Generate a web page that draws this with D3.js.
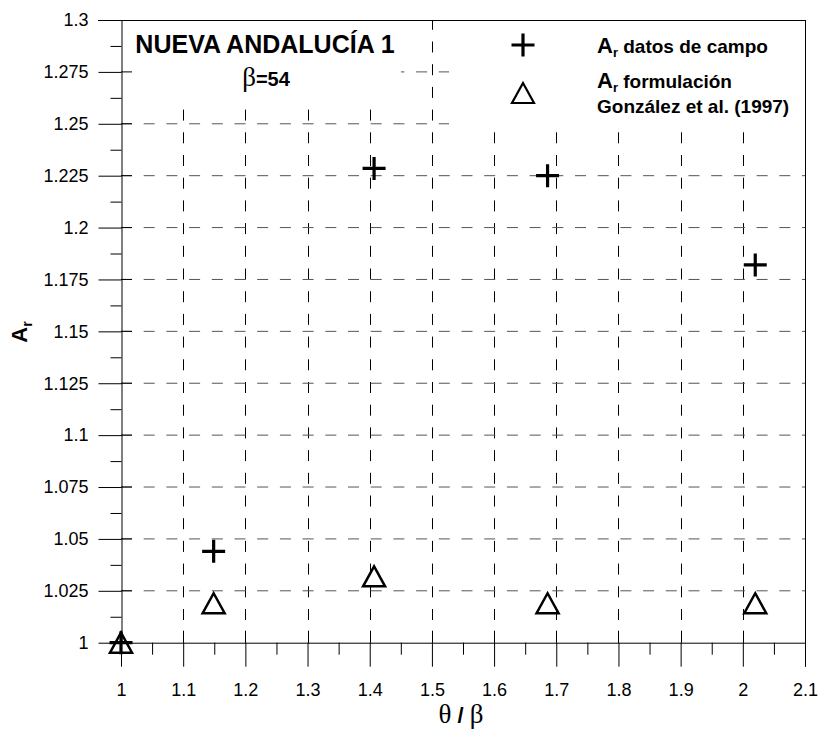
<!DOCTYPE html>
<html>
<head>
<meta charset="utf-8">
<script src="https://cdn.jsdelivr.net/npm/d3@7/dist/d3.min.js"></script>
<style>
  html, body { margin: 0; padding: 0; background: #fff; }
  svg { display: block; }
  text { font-family: "Liberation Sans", Arial, sans-serif; fill: #000; }
  .serif { font-family: "Liberation Serif", "Times New Roman", serif; }
</style>
</head>
<body>
<svg id="chart" width="821" height="733"></svg>
<script>
// θ/β ratios and amplification factors at Nueva Andalucía 1 (β = 54)
const thetaBetaCampo = [1.0, 1.149, 1.407, 1.686, 2.02];
const arCampo        = [1.0, 1.044, 1.2285, 1.225, 1.182];
const thetaBetaForm  = [1.0, 1.149, 1.407, 1.686, 2.02];
const arFormulacion  = [1.0, 1.019, 1.032, 1.019, 1.019];

// axis tick labels
const xTickLabels = ["1", "1.1", "1.2", "1.3", "1.4", "1.5", "1.6", "1.7", "1.8", "1.9", "2", "2.1"];
const yTickLabels = ["1", "1.025", "1.05", "1.075", "1.1", "1.125", "1.15", "1.175", "1.2",
                     "1.225", "1.25", "1.275", "1.3"];

const xTicks = xTickLabels.map(Number);
const yTicks = yTickLabels.map(Number);
const xMinor = xTicks.slice(0, -1).map(v => +(v + 0.05).toFixed(3));
const yMinor = yTicks.slice(0, -1).map(v => +(v + 0.0125).toFixed(4));

const svg = d3.select("#chart");
const plotLeft = 121, plotRight = 805, plotTop = 20, plotBottom = 642.7;

const x = d3.scaleLinear().domain([1, 2.1]).range([plotLeft, plotRight]);
const y = d3.scaleLinear().domain([1, 1.3]).range([plotBottom, plotTop]);

svg.append("rect").attr("width", 821).attr("height", 733).attr("fill", "#fff");

// dashed grid
const grid = svg.append("g").attr("stroke", "#000").attr("stroke-width", 1)
  .attr("stroke-dasharray", "11,11.7").attr("fill", "none");
grid.selectAll("line.v").data(xTicks.filter(v => v > 1 && v < 2.1)).join("line")
  .attr("class", "v")
  .attr("x1", d => Math.round(x(d)) + 0.5).attr("x2", d => Math.round(x(d)) + 0.5)
  .attr("y1", y(1)).attr("y2", y(1.3));
grid.selectAll("line.h").data(yTicks.filter(v => v > 1 && v < 1.3)).join("line")
  .attr("class", "h").attr("stroke", "#555")
  .attr("x1", x(1)).attr("x2", x(2.1))
  .attr("y1", d => y(d)).attr("y2", d => y(d));

// title and legend panels sit over the grid
svg.append("rect").attr("x", plotLeft).attr("y", plotTop).attr("width", 280).attr("height", 79).attr("fill", "#fff");
svg.append("rect").attr("x", 449).attr("y", plotTop).attr("width", plotRight - 449).attr("height", 106).attr("fill", "#fff");

// frame
const frame = svg.append("g").attr("stroke", "#000").attr("stroke-width", 1).attr("fill", "none");
frame.append("line").attr("x1", 98).attr("x2", plotRight).attr("y1", plotTop + 0.5).attr("y2", plotTop + 0.5);
frame.append("line").attr("x1", plotRight + 0.5).attr("x2", plotRight + 0.5).attr("y1", plotTop).attr("y2", plotBottom + 24);

// y axis: major ticks out with labels, short inward marks, minor ticks out
const yAxis = svg.append("g").attr("transform", `translate(${plotLeft + 0.5},0)`)
  .call(d3.axisLeft(y).tickValues(yTicks).tickFormat((d, i) => yTickLabels[i])
    .tickSizeInner(23).tickSizeOuter(0).tickPadding(10));
yAxis.select(".domain").attr("stroke", "#000");
yAxis.selectAll("text").attr("font-size", 18).attr("font-family", "Liberation Sans, Arial, sans-serif");
yAxis.selectAll(".tick line").attr("stroke", "#000");
svg.append("g").attr("transform", `translate(${plotLeft + 0.5},0)`)
  .call(d3.axisLeft(y).tickValues(yMinor).tickFormat("").tickSizeInner(11).tickSizeOuter(0))
  .call(g => g.select(".domain").remove())
  .selectAll(".tick line").attr("stroke", "#000");
svg.append("g").selectAll("line").data(yTicks.filter(v => v < 1.3)).join("line")
  .attr("stroke", "#000")
  .attr("x1", plotLeft).attr("x2", plotLeft + 11)
  .attr("y1", d => y(d)).attr("y2", d => y(d));

// x axis: major ticks cross the axis, minor ticks point down
const xAxis = svg.append("g").attr("transform", `translate(0,${plotBottom})`)
  .call(d3.axisBottom(x).tickValues(xTicks).tickFormat((d, i) => xTickLabels[i])
    .tickSizeInner(24).tickSizeOuter(0).tickPadding(17));
xAxis.select(".domain").attr("stroke", "#000");
xAxis.selectAll("text").attr("font-size", 18).attr("font-family", "Liberation Sans, Arial, sans-serif");
xAxis.selectAll(".tick line").attr("stroke", "#000");
svg.append("g").attr("transform", `translate(0,${plotBottom})`)
  .call(d3.axisBottom(x).tickValues(xMinor).tickFormat("").tickSizeInner(12).tickSizeOuter(0))
  .call(g => g.select(".domain").remove())
  .selectAll(".tick line").attr("stroke", "#000");
svg.append("g").selectAll("line").data(xTicks).join("line")
  .attr("stroke", "#000")
  .attr("x1", d => Math.round(x(d)) + 0.5).attr("x2", d => Math.round(x(d)) + 0.5)
  .attr("y1", plotBottom - 12).attr("y2", plotBottom);

// axis titles
const xt = svg.append("text").attr("x", 461).attr("y", 723).attr("text-anchor", "middle");
xt.append("tspan").attr("class", "serif").attr("font-size", 27).text("θ");
xt.append("tspan").attr("font-size", 22).attr("font-weight", "bold").text(" / ");
xt.append("tspan").attr("class", "serif").attr("font-size", 27).text("β");

const yt = svg.append("text").attr("transform", "translate(27,332) rotate(-90)")
  .attr("text-anchor", "middle").attr("font-weight", "bold").attr("font-size", 22);
yt.append("tspan").text("A");
yt.append("tspan").attr("font-size", 14).attr("dy", 5).text("r");

// chart title
svg.append("text").attr("x", 265).attr("y", 53).attr("text-anchor", "middle")
  .attr("font-size", 25).attr("font-weight", "bold").text("NUEVA ANDALUCÍA 1");
const bt = svg.append("text").attr("x", 266).attr("y", 86).attr("text-anchor", "middle");
bt.append("tspan").attr("class", "serif").attr("font-size", 27).text("β");
bt.append("tspan").attr("font-size", 20).attr("font-weight", "bold").text("=54");

// markers
const plusPath = "M-11.5,0H11.5M0,-11.5V11.5";
const triPath = "M0,-10L11,10H-11Z";

const campo = thetaBetaCampo.map((t, i) => ({ t, a: arCampo[i] }));
const form = thetaBetaForm.map((t, i) => ({ t, a: arFormulacion[i] }));

svg.append("g").selectAll("path").data(form).join("path")
  .attr("d", triPath).attr("fill", "none").attr("stroke", "#000").attr("stroke-width", 2.5)
  .attr("transform", d => `translate(${x(d.t)},${y(d.a)})`);
svg.append("g").selectAll("path").data(campo).join("path")
  .attr("d", plusPath).attr("fill", "none").attr("stroke", "#000").attr("stroke-width", 3.2)
  .attr("transform", d => `translate(${x(d.t)},${y(d.a)})`);

// legend
const lg = svg.append("g");
lg.append("path").attr("d", plusPath).attr("transform", "translate(523,45)")
  .attr("stroke", "#000").attr("stroke-width", 3.2).attr("fill", "none");
lg.append("path").attr("d", triPath).attr("transform", "translate(523,93)")
  .attr("stroke", "#000").attr("stroke-width", 2.2).attr("fill", "none");
const l1 = lg.append("text").attr("x", 597).attr("y", 53).attr("font-size", 19).attr("font-weight", "bold");
l1.append("tspan").attr("font-size", 22).text("A");
l1.append("tspan").attr("font-size", 13).attr("dy", 4).text("r");
l1.append("tspan").attr("dy", -4).text(" datos de campo");
const l2 = lg.append("text").attr("x", 597).attr("y", 88).attr("font-size", 19).attr("font-weight", "bold");
l2.append("tspan").attr("font-size", 22).text("A");
l2.append("tspan").attr("font-size", 13).attr("dy", 4).text("r");
l2.append("tspan").attr("dy", -4).text(" formulación");
lg.append("text").attr("x", 597).attr("y", 113).attr("font-size", 19).attr("font-weight", "bold")
  .text("González et al. (1997)");
</script>
</body>
</html>
